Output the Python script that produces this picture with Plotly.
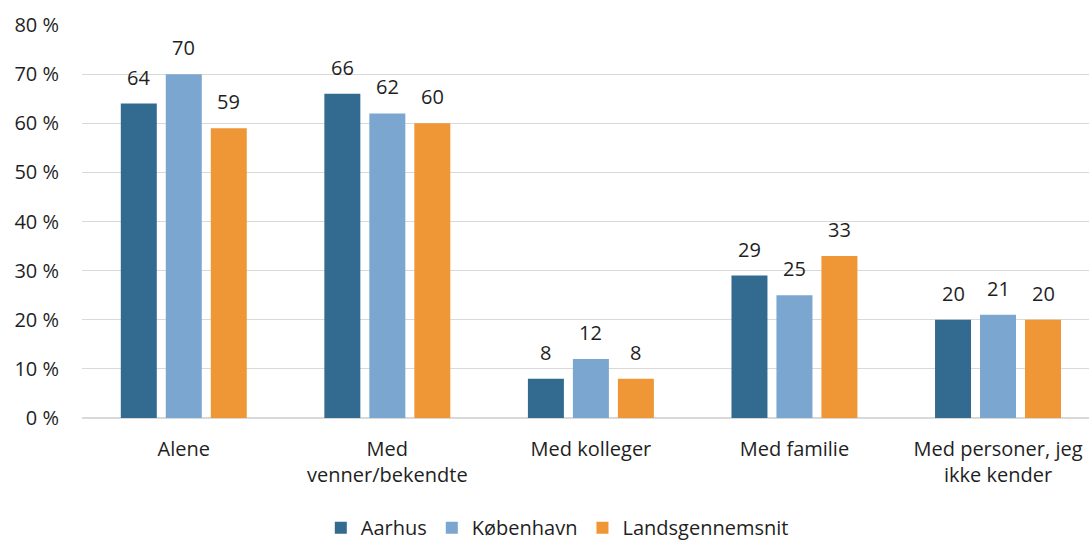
import plotly.graph_objects as go

categories = ["Alene", "Med<br>venner/bekendte", "Med kolleger", "Med familie", "Med personer, jeg<br>ikke kender"]
series_names = ["Aarhus", "København", "Landsgennemsnit"]
aarhus = [64, 66, 8, 29, 20]
koebenhavn = [70, 62, 12, 25, 21]
lands = [59, 60, 8, 33, 20]
y_ticks = [0, 10, 20, 30, 40, 50, 60, 70, 80]
y_tick_text = [f"{v} %" for v in y_ticks]

colors = ["#336a90", "#7aa6cf", "#ef9636"]
FONT = "Open Sans"
FS = 20
TXT = "#1f1f1f"

fig = go.Figure()
series = [aarhus, koebenhavn, lands]
for name, vals, col in zip(series_names, series, colors):
    fig.add_trace(go.Bar(x=categories, y=vals, name=name, marker=dict(color=col, line=dict(width=0))))

shifts = [-45, 0, 45]
for vals, sh in zip(series, shifts):
    for c, v in zip(categories, vals):
        fig.add_annotation(x=c, y=v, text=str(v), showarrow=False, xshift=sh, yshift=11,
                           yanchor="bottom", font=dict(family=FONT, size=FS, color=TXT))

fig.update_layout(
    width=1089, height=541,
    margin=dict(l=82, r=0, t=25, b=123, autoexpand=False),
    paper_bgcolor="white", plot_bgcolor="white",
    barmode="group", bargap=0.337, bargroupgap=0.2,
    font=dict(family=FONT, size=FS, color=TXT),
    showlegend=True,
    legend=dict(orientation="h", x=0.472, xanchor="center", y=-0.279, yanchor="middle",
                font=dict(family=FONT, size=FS, color=TXT), itemwidth=30, traceorder="normal"),
)
fig.update_xaxes(range=[-0.5, 4.447], showgrid=False, showline=False, ticks="", automargin=False,
                 tickfont=dict(family=FONT, size=FS, color=TXT), ticklabelstandoff=17)
fig.update_yaxes(range=[0, 80], tickvals=y_ticks, ticktext=y_tick_text, showgrid=True, automargin=False,
                 gridcolor="#d9d9d9", gridwidth=1, zeroline=True, zerolinecolor="#d9d9d9",
                 zerolinewidth=2, showline=False, ticks="",
                 tickfont=dict(family=FONT, size=FS, color=TXT), ticklabelstandoff=22)

fig.write_html("out.html", config={"displayModeBar": False},
               post_script="document.body.style.margin='0px';document.body.style.overflow='hidden';")
